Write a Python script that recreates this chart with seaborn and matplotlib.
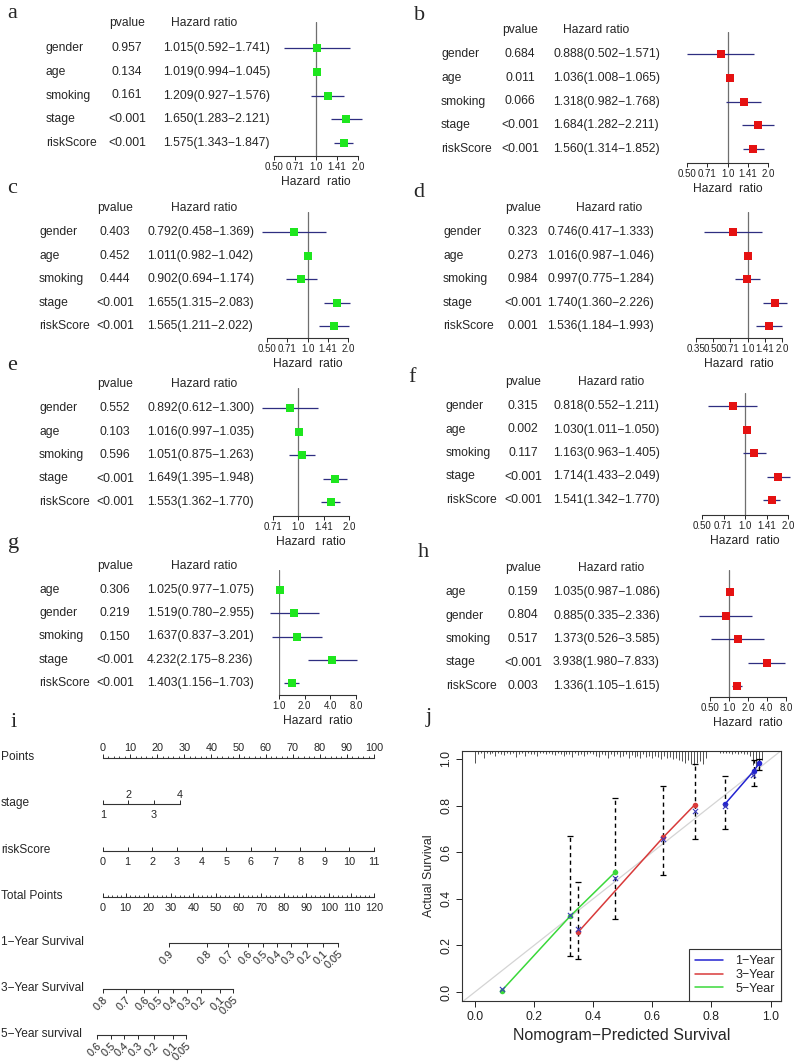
import matplotlib
matplotlib.use("Agg")
import numpy as np
import seaborn as sns
import matplotlib.pyplot as plt
from matplotlib.transforms import blended_transform_factory
from matplotlib.ticker import NullLocator, FixedLocator
from matplotlib.lines import Line2D

# =====================================================
# Data
# =====================================================

vars_std = ["gender", "age", "smoking", "stage", "riskScore"]
vars_gh = ["age", "gender", "smoking", "stage", "riskScore"]

p_a = ["0.957", "0.134", "0.161", "<0.001", "<0.001"]
hr_a = [1.015, 1.019, 1.209, 1.650, 1.575]
lo_a = [0.592, 0.994, 0.927, 1.283, 1.343]
hi_a = [1.741, 1.045, 1.576, 2.121, 1.847]

p_b = ["0.684", "0.011", "0.066", "<0.001", "<0.001"]
hr_b = [0.888, 1.036, 1.318, 1.684, 1.560]
lo_b = [0.502, 1.008, 0.982, 1.282, 1.314]
hi_b = [1.571, 1.065, 1.768, 2.211, 1.852]

p_c = ["0.403", "0.452", "0.444", "<0.001", "<0.001"]
hr_c = [0.792, 1.011, 0.902, 1.655, 1.565]
lo_c = [0.458, 0.982, 0.694, 1.315, 1.211]
hi_c = [1.369, 1.042, 1.174, 2.083, 2.022]

p_d = ["0.323", "0.273", "0.984", "<0.001", "0.001"]
hr_d = [0.746, 1.016, 0.997, 1.740, 1.536]
lo_d = [0.417, 0.987, 0.775, 1.360, 1.184]
hi_d = [1.333, 1.046, 1.284, 2.226, 1.993]

p_e = ["0.552", "0.103", "0.596", "<0.001", "<0.001"]
hr_e = [0.892, 1.016, 1.051, 1.649, 1.553]
lo_e = [0.612, 0.997, 0.875, 1.395, 1.362]
hi_e = [1.300, 1.035, 1.263, 1.948, 1.770]

p_f = ["0.315", "0.002", "0.117", "<0.001", "<0.001"]
hr_f = [0.818, 1.030, 1.163, 1.714, 1.541]
lo_f = [0.552, 1.011, 0.963, 1.433, 1.342]
hi_f = [1.211, 1.050, 1.405, 2.049, 1.770]

p_g = ["0.306", "0.219", "0.150", "<0.001", "<0.001"]
hr_g = [1.025, 1.519, 1.637, 4.232, 1.403]
lo_g = [0.977, 0.780, 0.837, 2.175, 1.156]
hi_g = [1.075, 2.955, 3.201, 8.236, 1.703]

p_h = ["0.159", "0.804", "0.517", "<0.001", "0.003"]
hr_h = [1.035, 0.885, 1.373, 3.938, 1.336]
lo_h = [0.987, 0.335, 0.526, 1.980, 1.105]
hi_h = [1.086, 2.336, 3.585, 7.833, 1.615]

ticks_std = [2 ** -1, 2 ** -0.5, 1, 2 ** 0.5, 2]
labels_std = ["0.50", "0.71", "1.0", "1.41", "2.0"]
ticks_d = [2 ** -1.5, 2 ** -1, 2 ** -0.5, 1, 2 ** 0.5, 2]
labels_d = ["0.35", "0.50", "0.71", "1.0", "1.41", "2.0"]
ticks_e = [2 ** -0.5, 1, 2 ** 0.5, 2]
labels_e = ["0.71", "1.0", "1.41", "2.0"]
ticks_g = [1, 2, 4, 8]
labels_g = ["1.0", "2.0", "4.0", "8.0"]
ticks_h = [0.5, 1, 2, 4, 8]
labels_h = ["0.50", "1.0", "2.0", "4.0", "8.0"]

# nomogram scales (values -> points)
stage_levels = ["1", "2", "3", "4"]
stage_pts = [0, 9.4, 18.8, 28.3]
risk_max = 11
surv1_labels = ["0.9", "0.8", "0.7", "0.6", "0.5", "0.4", "0.3", "0.2", "0.1", "0.05"]
surv1_pts = [29.2, 46.0, 55.4, 64.2, 70.8, 77.0, 83.2, 90.3, 97.4, 104.1]
surv3_labels = ["0.8", "0.7", "0.6", "0.5", "0.4", "0.3", "0.2", "0.1", "0.05"]
surv3_pts = [0.0, 10.2, 18.2, 24.4, 31.0, 37.2, 43.4, 51.8, 57.6]
surv5_labels = ["0.6", "0.5", "0.4", "0.3", "0.2", "0.1", "0.05"]
surv5_pts = [-2.7, 3.5, 9.3, 15.5, 22.6, 31.0, 36.8]

# calibration
cal1_x = [0.846, 0.944, 0.962]
cal1_y = [0.807, 0.950, 0.983]
cal1_lo = [0.701, 0.886, 0.954]
cal1_hi = [0.928, 0.994, 1.000]
cal1_cx = [0.846, 0.942]
cal1_cy = [0.797, 0.930]

cal3_x = [0.350, 0.637, 0.744]
cal3_y = [0.258, 0.664, 0.804]
cal3_lo = [0.142, 0.504, 0.658]
cal3_hi = [0.472, 0.883, 0.980]
cal3_cy = [0.270, 0.658, 0.775]

cal5_x = [0.091, 0.322, 0.474]
cal5_y = [0.006, 0.325, 0.514]
cal5_lo = [np.nan, 0.157, 0.315]
cal5_hi = [np.nan, 0.668, 0.833]
cal5_cy = [0.014, 0.330, 0.488]

rug_x = np.round(np.arange(0, 0.975, 0.01), 2)
rug_len = [0.050,
           0.012, 0.008, 0.030, 0.010, 0.015, 0.008, 0.020, 0.010, 0.012,
           0.018, 0.010, 0.015, 0.008, 0.025, 0.012, 0.010, 0.020, 0.008, 0.015,
           0.012, 0.020, 0.010, 0.008, 0.015, 0.010, 0.012, 0.018, 0.010, 0.015,
           0.020, 0.012, 0.015, 0.025, 0.010, 0.018, 0.012, 0.020, 0.015, 0.010,
           0.015, 0.020, 0.025, 0.012, 0.018, 0.030, 0.015, 0.020, 0.012, 0.025,
           0.020, 0.015, 0.030, 0.018, 0.025, 0.020, 0.030, 0.015, 0.025, 0.020,
           0.030, 0.020, 0.025, 0.035, 0.020, 0.030, 0.025, 0.035, 0.030, 0.040,
           0.045, 0.050, 0.040, 0.055, 0.060, 0.050, 0.045, 0.055, 0.030, 0.000,
           0.000, 0.000, 0.000, 0.008, 0.010, 0.008, 0.010, 0.012, 0.010, 0.012,
           0.010, 0.012, 0.015, 0.020, 0.060, 0.070, 0.065, 0.040]

# =====================================================
# Figure
# =====================================================

sns.set_theme(style="white")
plt.rcParams["font.family"] = ["Liberation Sans", "DejaVu Sans"]
plt.rcParams["axes.unicode_minus"] = True

W, H = 800, 1061
fig = plt.figure(figsize=(8, 10.61), dpi=100)
fig.patch.set_facecolor("white")


def fx(px):
    return px / W


def fy(py):
    return 1 - py / H


GREEN = "#1ee61e"
RED = "#e51212"
FS = 8.7


def forest(lay, names, pvals, hr, lo, hi, ticks, tlabels, color):
    L, R, top, axis_y, row0, sp, hdr_y, lab_x, p_x, hr_x, hdr_x = lay
    ax = fig.add_axes([fx(L), fy(axis_y), (R - L) / W, (axis_y - top) / H])
    rows = np.arange(len(names))
    ax.axvline(1, color="#6f6f6f", lw=0.9, zorder=1)
    ax.hlines(rows, lo, hi, color="#2e2e80", lw=0.9, clip_on=False, zorder=2)
    sns.scatterplot(x=hr, y=rows, marker="s", s=38, color=color,
                    linewidth=0, ax=ax, clip_on=False, zorder=3)
    ax.set_xscale("log", base=2)
    ax.set_xlim(ticks[0], ticks[-1])
    ax.set_ylim((axis_y - row0) / sp, (top - row0) / sp)
    ax.set_xticks(ticks, tlabels)
    ax.xaxis.set_minor_locator(NullLocator())
    ax.set_yticks([])
    for s in ["top", "left", "right"]:
        ax.spines[s].set_visible(False)
    ax.spines["bottom"].set_color("#333333")
    ax.spines["bottom"].set_linewidth(0.8)
    ax.patch.set_visible(False)
    ax.tick_params(axis="x", bottom=True, length=3, width=0.7, pad=1,
                   labelsize=7, colors="#222222")
    ax.set_xlabel("Hazard  ratio", fontsize=FS, labelpad=3)
    tr = blended_transform_factory(fig.transFigure, ax.transData)
    hy = (hdr_y - row0) / sp
    ax.text(fx(p_x), hy, "pvalue", transform=tr, ha="center", va="center", fontsize=FS)
    ax.text(fx(hdr_x), hy, "Hazard ratio", transform=tr, ha="left", va="center", fontsize=FS)
    for i in rows:
        ax.text(fx(lab_x), i, names[i], transform=tr, ha="left", va="center", fontsize=FS)
        ax.text(fx(p_x), i, pvals[i], transform=tr, ha="center", va="center", fontsize=FS)
        ax.text(fx(hr_x), i, f"{hr[i]:.3f}({lo[i]:.3f}\u2212{hi[i]:.3f})",
                transform=tr, ha="left", va="center", fontsize=FS)
    return ax


# layout: L, R, top, axis, row0, spacing, header, label x, p x, hr x, header x
forest((274, 358, 22, 156, 48, 23.75, 23, 46, 127, 163, 171),
       vars_std, p_a, hr_a, lo_a, hi_a, ticks_std, labels_std, GREEN)
forest((687, 768, 32, 163, 54, 23.75, 30, 441, 520, 553, 563),
       vars_std, p_b, hr_b, lo_b, hi_b, ticks_std, labels_std, RED)
forest((267, 348, 212, 338, 232, 23.5, 208, 39, 115, 147, 171),
       vars_std, p_c, hr_c, lo_c, hi_c, ticks_std, labels_std, GREEN)
forest((696, 782, 212, 338, 232, 23.5, 208, 443, 523, 547, 576),
       vars_std, p_d, hr_d, lo_d, hi_d, ticks_d, labels_d, RED)
forest((273, 349, 388, 516, 408, 23.5, 384, 39, 115, 147, 171),
       vars_std, p_e, hr_e, lo_e, hi_e, ticks_e, labels_e, GREEN)
forest((702, 788, 393, 515, 406, 23.5, 382, 446, 523, 553, 578),
       vars_std, p_f, hr_f, lo_f, hi_f, ticks_std, labels_std, RED)
forest((279, 356, 570, 695, 590, 23.25, 566, 39, 115, 147, 171),
       vars_gh, p_g, hr_g, lo_g, hi_g, ticks_g, labels_g, GREEN)
forest((710, 786, 570, 697, 592, 23.5, 568, 446, 523, 553, 578),
       vars_gh, p_h, hr_h, lo_h, hi_h, ticks_h, labels_h, RED)

# panel letters
for letter, px, py in [("a", 7, 18), ("b", 414, 20), ("c", 7, 193), ("d", 413, 197),
                       ("e", 7, 370), ("f", 408, 382), ("g", 8, 548), ("h", 418, 557),
                       ("i", 11, 727), ("j", 426, 722)]:
    fig.text(fx(px), fy(py), letter, fontsize=16, family="Liberation Serif",
             ha="left", va="baseline")

# =====================================================
# Nomogram
# =====================================================

NL, NR = 103, 374
NFS = 8.6
NTS = 7.8


def nomo_axis(py, vmax, side):
    ext = 0.06
    span = NR - NL
    ax = fig.add_axes([fx(NL - ext * span), fy(py), (1 + 2 * ext) * span / W, 1e-4])
    ax.set_xlim(-ext * vmax, (1 + ext) * vmax)
    ax.set_ylim(0, 1)
    ax.set_yticks([])
    for s in ax.spines.values():
        s.set_visible(False)
    ax.spines[side].set_visible(True)
    ax.spines[side].set_color("#333333")
    ax.spines[side].set_linewidth(0.8)
    ax.patch.set_visible(False)
    if side == "top":
        ax.xaxis.tick_top()
    return ax


def nomo_label(py, text):
    fig.text(fx(1), fy(py - 1), text, fontsize=NFS, ha="left", va="center")


# Points
ax = nomo_axis(758, 100, "top")
ax.spines["top"].set_bounds(0, 100)
ax.set_xticks(np.arange(0, 101, 10))
ax.xaxis.set_minor_locator(FixedLocator(np.arange(0, 101, 2)))
ax.tick_params(axis="x", which="major", direction="out", length=3, width=0.7,
               pad=0.5, labelsize=NTS, top=True, bottom=False)
ax.tick_params(axis="x", which="minor", direction="out", length=1.5, width=0.6,
               top=True, bottom=False)
nomo_label(758, "Points")

# stage
ax = nomo_axis(804, 100, "bottom")
ax.spines["bottom"].set_bounds(stage_pts[0], stage_pts[-1])
ax.set_xticks(stage_pts, [stage_levels[0], "", stage_levels[2], ""])
ax.tick_params(axis="x", direction="in", length=3, width=0.7, pad=4,
               labelsize=NTS, bottom=True)
sec = ax.secondary_xaxis("top")
sec.set_xticks([stage_pts[1], stage_pts[3]], [stage_levels[1], stage_levels[3]])
sec.tick_params(length=0, pad=3, labelsize=NTS)
sec.spines["top"].set_visible(False)
nomo_label(804, "stage")

# riskScore
ax = nomo_axis(851, risk_max, "bottom")
ax.spines["bottom"].set_bounds(0, risk_max)
ax.set_xticks(np.arange(0, risk_max + 1, 1))
ax.tick_params(axis="x", direction="in", length=3, width=0.7, pad=4,
               labelsize=NTS, bottom=True)
nomo_label(851, "riskScore")

# Total Points
ax = nomo_axis(897, 120, "bottom")
ax.spines["bottom"].set_bounds(0, 120)
ax.set_xticks(np.arange(0, 121, 10))
ax.xaxis.set_minor_locator(FixedLocator(np.arange(0, 121, 2)))
ax.tick_params(axis="x", which="major", direction="in", length=3, width=0.7,
               pad=4, labelsize=NTS, bottom=True)
ax.tick_params(axis="x", which="minor", direction="in", length=1.5, width=0.6,
               bottom=True)
nomo_label(897, "Total Points")

# survival scales
for py, pts, labs, name in [(943, surv1_pts, surv1_labels, "1\u2212Year Survival"),
                            (989, surv3_pts, surv3_labels, "3\u2212Year Survival"),
                            (1035, surv5_pts, surv5_labels, "5\u2212Year survival")]:
    ax = nomo_axis(py, 120, "bottom")
    ax.spines["bottom"].set_bounds(min(pts), max(pts))
    ax.set_xticks(pts)
    ax.set_xticklabels(labs, rotation=45, ha="right", va="top",
                       rotation_mode="anchor")
    ax.tick_params(axis="x", direction="out", length=3, width=0.7, pad=1,
                   labelsize=NTS, bottom=True)
    nomo_label(py, name)

# =====================================================
# Calibration
# =====================================================

BLUE = "#2323d0"
CRED = "#d83a3a"
CGREEN = "#3ad83a"

axc = fig.add_axes([fx(462), fy(1001), (781 - 462) / W, (1001 - 751) / H])
axc.axline((0, 0), (1, 1), color="#d4d4d4", lw=0.9, zorder=1)

top = 1.034
axc.vlines(rug_x, top - np.array(rug_len), top, color="#333333", lw=0.6, zorder=2)

for xs, ys, los, his in [(cal1_x, cal1_y, cal1_lo, cal1_hi),
                         (cal3_x, cal3_y, cal3_lo, cal3_hi),
                         (cal5_x, cal5_y, cal5_lo, cal5_hi)]:
    xs = np.array(xs)
    lo = np.array(los)
    hi = np.array(his)
    mid = (lo + hi) / 2
    eb = axc.errorbar(xs, mid, yerr=(hi - lo) / 2, fmt="none", ecolor="black",
                      elinewidth=1.0, capsize=2, capthick=0.9, zorder=3)
    eb[2][0].set_linestyle((0, (3, 2.5)))

for xs, ys, col in [(cal1_x, cal1_y, BLUE),
                    (cal3_x, cal3_y, CRED),
                    (cal5_x, cal5_y, CGREEN)]:
    sns.lineplot(x=xs, y=ys, color=col, lw=1.1, ax=axc, zorder=4)
    sns.scatterplot(x=xs, y=ys, color=col, s=16, linewidth=0, ax=axc, zorder=5)

cx_all = cal1_cx + cal3_x + cal5_x
cy_all = cal1_cy + cal3_cy + cal5_cy
sns.scatterplot(x=cx_all, y=cy_all, marker="x", color="#3a3ab8", s=14,
                linewidth=0.8, ax=axc, zorder=6)

axc.set_xlim(-0.043, 1.035)
axc.set_ylim(-0.038, 1.034)
tick_vals = np.arange(0, 1.01, 0.2)
axc.set_xticks(tick_vals, [f"{v:.1f}" for v in tick_vals])
axc.set_yticks(tick_vals)
axc.set_yticklabels([f"{v:.1f}" for v in tick_vals], rotation=90, va="center")
axc.tick_params(axis="both", direction="out", length=4, width=0.7, pad=3,
                labelsize=8.8, bottom=True, left=True, colors="#222222")
for s in axc.spines.values():
    s.set_visible(True)
    s.set_color("#333333")
    s.set_linewidth(0.8)
axc.set_xlabel("Nomogram\u2212Predicted Survival", fontsize=11.5, labelpad=4)
axc.set_ylabel("Actual Survival", fontsize=8.9, labelpad=4)

handles = [Line2D([], [], color=BLUE, lw=1.1),
           Line2D([], [], color=CRED, lw=1.1),
           Line2D([], [], color=CGREEN, lw=1.1)]
leg = axc.legend(handles, ["1\u2212Year", "3\u2212Year", "5\u2212Year"],
                 loc="lower right", borderaxespad=0, fancybox=False,
                 edgecolor="#333333", framealpha=1, fontsize=9,
                 handlelength=2.2, handletextpad=1.0, labelspacing=0.15,
                 borderpad=0.5)
leg.get_frame().set_linewidth(0.8)

fig.savefig("out.png", dpi=100, facecolor="white")
print("done")
